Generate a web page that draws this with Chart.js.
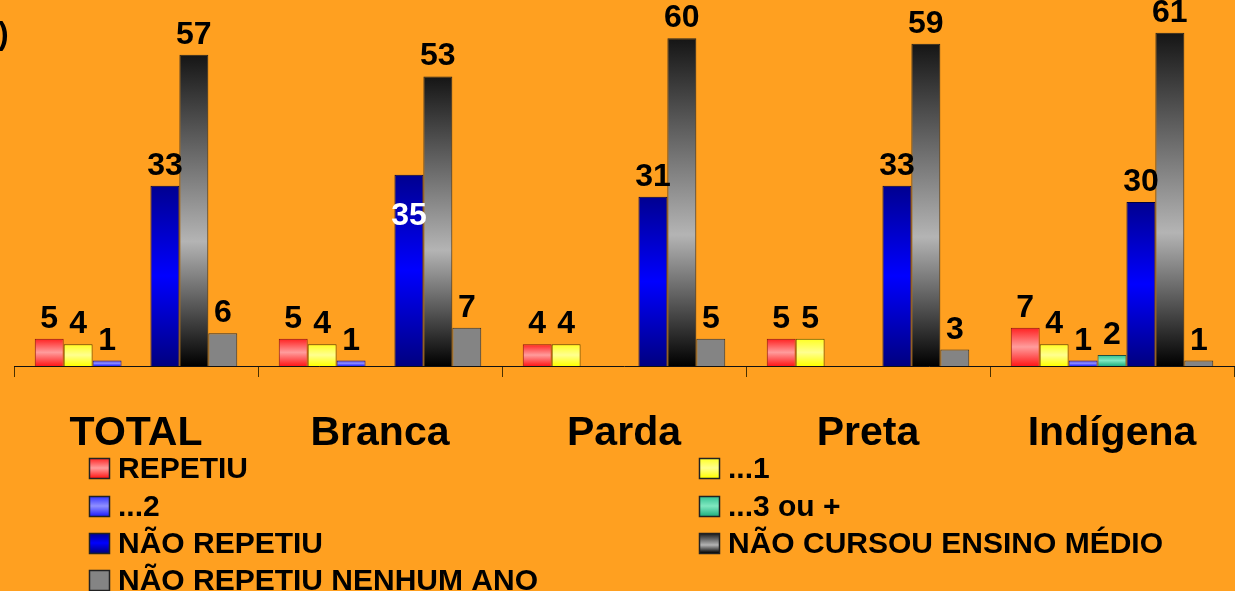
<!DOCTYPE html>
<html>
<head>
<meta charset="utf-8">
<script src="https://cdn.jsdelivr.net/npm/chart.js@4/dist/chart.umd.min.js"></script>
<style>
  html, body { margin: 0; padding: 0; background: #FFA020; }
  #wrap { width: 1235px; height: 591px; }
</style>
</head>
<body>
<div id="wrap"><canvas id="grafico" width="1235" height="591"></canvas></div>
<script>
const categories = ['TOTAL', 'Branca', 'Parda', 'Preta', 'Indígena'];
const repetiu = [5, 5, 4, 5, 7];
const repetiu1 = [4, 4, 4, 5, 4];
const repetiu2 = [1, 1, 0, 0, 1];
const repetiu3 = [0, 0, 0, 0, 2];
const naoRepetiu = [33, 35, 31, 33, 30];
const naoCursou = [57, 53, 60, 59, 61];
const nenhumAno = [6, 7, 5, 3, 1];

const FONT = '"Liberation Sans", Arial, sans-serif';

// gradiente vertical em cada barra
function vgrad(stops) {
  return function (c) {
    const chart = c.chart;
    if (!chart.chartArea || !c.raw) return stops[0][1];
    const y = chart.scales.y;
    const top = y.getPixelForValue(c.raw), base = y.getPixelForValue(0);
    if (base - top < 1) return stops[0][1];
    const g = chart.ctx.createLinearGradient(0, top, 0, base);
    stops.forEach(s => g.addColorStop(s[0], s[1]));
    return g;
  };
}

function serie(label, data, stops, border) {
  return {
    label: label,
    data: data,
    stops: stops,
    backgroundColor: vgrad(stops),
    borderColor: border,
    borderWidth: c => (c.raw ? 1 : 0),
    borderSkipped: 'start'
  };
}

const datasets = [
  serie('REPETIU', repetiu, [[0, '#ff2020'], [0.5, '#ff9c9c'], [1, '#ff1818']], '#8a1010'),
  serie('...1', repetiu1, [[0, '#ffff20'], [0.5, '#ffff90'], [1, '#ffff00']], '#5a4a00'),
  serie('...2', repetiu2, [[0, '#3030ff'], [0.5, '#9090ff'], [1, '#2020ff']], '#1010a0'),
  serie('...3 ou +', repetiu3, [[0, '#30c090'], [0.5, '#80e8c0'], [1, '#20b080']], '#205040'),
  serie('NÃO REPETIU', naoRepetiu, [[0, '#000090'], [0.5, '#0000ff'], [1, '#000080']], '#000040'),
  serie('NÃO CURSOU ENSINO MÉDIO', naoCursou, [[0, '#151515'], [0.6, '#b4b4b4'], [1, '#000000']], '#222222'),
  serie('NÃO REPETIU NENHUM ANO', nenhumAno, [[0, '#848484'], [1, '#848484']], '#333333')
];

const rotulos = {
  id: 'rotulos',
  afterDatasetsDraw(chart) {
    const ctx = chart.ctx;
    ctx.save();
    ctx.font = 'bold 32px ' + FONT;
    ctx.textAlign = 'center';
    ctx.textBaseline = 'alphabetic';
    chart.data.datasets.forEach((ds, i) => {
      chart.getDatasetMeta(i).data.forEach((bar, j) => {
        const v = ds.data[j];
        if (!v) return;
        if (i === 4 && j === 1) {
          ctx.fillStyle = '#ffffff';
          ctx.fillText(v, bar.x, bar.y + 50);
        } else {
          ctx.fillStyle = '#000000';
          ctx.fillText(v, bar.x, bar.y - 11);
        }
      });
    });
    // resto do titulo cortado
    ctx.textAlign = 'left';
    ctx.fillStyle = '#000000';
    ctx.fillText(')', -2, 44);
    ctx.restore();
  }
};

const legenda = {
  id: 'legenda',
  afterDraw(chart) {
    const ctx = chart.ctx;
    const colX = [89, 699];
    const rowY = [468, 506, 543, 580];
    ctx.save();
    ctx.font = 'bold 30px ' + FONT;
    ctx.textBaseline = 'middle';
    ctx.textAlign = 'left';
    chart.data.datasets.forEach((ds, i) => {
      const x = colX[i % 2], y = rowY[Math.floor(i / 2)];
      const g = ctx.createLinearGradient(0, y - 10, 0, y + 10);
      ds.stops.forEach(s => g.addColorStop(s[0], s[1]));
      ctx.fillStyle = g;
      ctx.fillRect(x, y - 10, 20, 20);
      ctx.strokeStyle = '#222';
      ctx.lineWidth = 1.5;
      ctx.strokeRect(x + 0.5, y - 9.5, 20, 20);
      ctx.fillStyle = '#000';
      ctx.fillText(ds.label, x + 29, y + 2);
    });
    ctx.restore();
  }
};

new Chart(document.getElementById('grafico'), {
  type: 'bar',
  data: { labels: categories, datasets: datasets },
  options: {
    responsive: false,
    animation: false,
    layout: { padding: { left: 14, right: 1, top: 0, bottom: 0 } },
    datasets: { bar: { categoryPercentage: 0.83, barPercentage: 1 } },
    plugins: { legend: { display: false }, tooltip: { enabled: false } },
    scales: {
      x: {
        afterFit: s => { s.height = 225; },
        grid: { offset: true, drawOnChartArea: false, drawTicks: true, tickLength: 11, color: '#4a3000', lineWidth: 1 },
        border: { display: true, color: '#111', width: 1 },
        ticks: { color: '#000', padding: 32, font: { family: FONT, size: 41, weight: 'bold' } }
      },
      y: { display: false, min: 0, max: 67 }
    }
  },
  plugins: [rotulos, legenda]
});
</script>
</body>
</html>
